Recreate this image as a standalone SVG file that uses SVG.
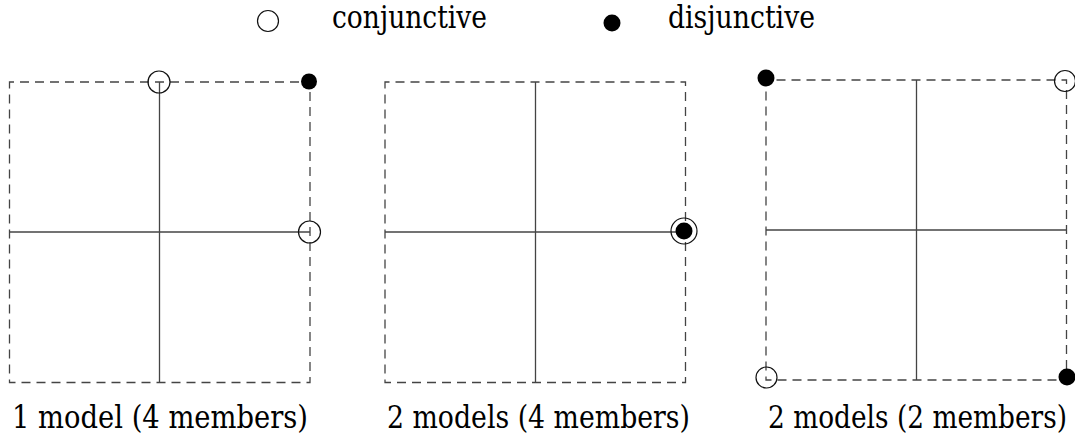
<svg xmlns="http://www.w3.org/2000/svg" width="1075" height="441" viewBox="0 0 1075 441">
<style>
.frame{fill:none;stroke:#444;stroke-width:1.3;stroke-dasharray:9 6;stroke-dashoffset:4.5}
.axis{stroke:#444;stroke-width:1.3}
.conj{fill:#fff;fill-opacity:0;stroke:#111;stroke-width:1.2}
.disj{fill:#000}
.lbl{font-family:'DejaVu Serif','Liberation Serif',serif;font-size:31px;fill:#000}
.big{font-size:31px}
</style>
<rect width="1075" height="441" fill="#fff"/>
<g id="legend">
<circle class="conj" cx="268" cy="21" r="10.5"/>
<text class="lbl" x="332" y="28" textLength="155" lengthAdjust="spacingAndGlyphs">conjunctive</text>
<circle class="disj" cx="612" cy="23" r="8.5"/>
<text class="lbl" x="668" y="28" textLength="147" lengthAdjust="spacingAndGlyphs">disjunctive</text>
</g>
<g id="panel1">
<rect class="frame" x="9.5" y="82" width="300.5" height="300.5"/>
<line class="axis" x1="159.5" y1="82" x2="159.5" y2="382.5"/>
<line class="axis" x1="9.5" y1="232" x2="310" y2="232"/>
<circle class="conj" cx="159" cy="82" r="11"/>
<circle class="disj" cx="309" cy="81.5" r="8"/>
<circle class="conj" cx="309.5" cy="232" r="11"/>
<text class="lbl big" x="12" y="428" textLength="296" lengthAdjust="spacingAndGlyphs">1 model (4 members)</text>
</g>
<g id="panel2">
<rect class="frame" x="385" y="82" width="300.5" height="300.5"/>
<line class="axis" x1="535.5" y1="82" x2="535.5" y2="382.5"/>
<line class="axis" x1="385" y1="232" x2="685.5" y2="232"/>
<circle class="conj" cx="684" cy="231" r="13"/>
<circle class="disj" cx="684" cy="231" r="8.5"/>
<text class="lbl big" x="387" y="428" textLength="303" lengthAdjust="spacingAndGlyphs">2 models (4 members)</text>
</g>
<g id="panel3">
<rect class="frame" x="766" y="80" width="300.5" height="300"/>
<line class="axis" x1="916.5" y1="80" x2="916.5" y2="380"/>
<line class="axis" x1="766" y1="230" x2="1066.5" y2="230"/>
<circle class="disj" cx="766" cy="78" r="8.5"/>
<circle class="conj" cx="1065" cy="81" r="10.5"/>
<circle class="conj" cx="766.5" cy="377.5" r="10.5"/>
<circle class="disj" cx="1067" cy="377" r="8.5"/>
<text class="lbl big" x="1067" y="428" text-anchor="end" textLength="299" lengthAdjust="spacingAndGlyphs">2 models (2 members)</text>
</g>
</svg>
